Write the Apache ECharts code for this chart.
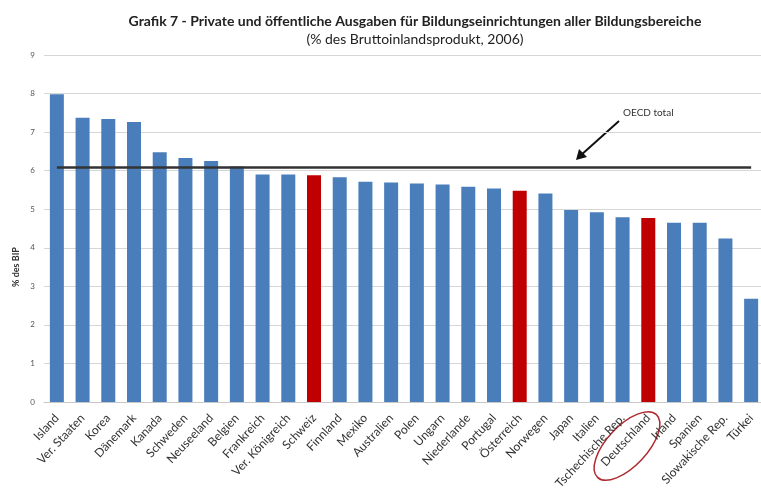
<!DOCTYPE html>
<html>
<head>
<meta charset="utf-8">
<script src="https://cdn.jsdelivr.net/npm/echarts@6/dist/echarts.min.js"></script>
<style>
  html, body { margin: 0; padding: 0; background: #fff; }
  #chart { width: 761px; height: 488px; }
</style>
</head>
<body>
<div id="chart"></div>
<script>
  // Länder, sortiert nach Ausgaben
  const countries = ['Island', 'Ver. Staaten', 'Korea', 'Dänemark', 'Kanada', 'Schweden', 'Neuseeland',
    'Belgien', 'Frankreich', 'Ver. Königreich', 'Schweiz', 'Finnland', 'Mexiko', 'Australien', 'Polen',
    'Ungarn', 'Niederlande', 'Portugal', 'Österreich', 'Norwegen', 'Japan', 'Italien', 'Tschechische Rep.',
    'Deutschland', 'Irland', 'Spanien', 'Slowakische Rep.', 'Türkei'];
  const spending = [7.98, 7.37, 7.34, 7.26, 6.48, 6.33, 6.25, 6.11, 5.9, 5.9, 5.88, 5.83, 5.71, 5.69, 5.67,
    5.64, 5.58, 5.54, 5.48, 5.41, 4.98, 4.92, 4.79, 4.77, 4.65, 4.65, 4.24, 2.68];
  const highlighted = ['Schweiz', 'Österreich', 'Deutschland'];
  const oecdTotal = 6.1;

  const chart = echarts.init(document.getElementById('chart'));
  const font = 'Lato, "Open Sans", sans-serif';

  chart.setOption({
    animation: false,
    textStyle: { fontFamily: font },
    title: {
      text: 'Grafik 7 - Private und öffentliche Ausgaben für Bildungseinrichtungen aller Bildungsbereiche',
      subtext: '(% des Bruttoinlandsprodukt, 2006)',
      left: 410,
      textAlign: 'center',
      top: 9,
      itemGap: 4,
      textStyle: { fontSize: 14, fontWeight: 'bold', color: '#222', fontFamily: font },
      subtextStyle: { fontSize: 14, color: '#222', fontFamily: font }
    },
    grid: { left: 44, right: -3, top: 55, bottom: 86, outerBoundsMode: 'none', containLabel: false },
    xAxis: {
      type: 'category',
      data: countries,
      axisLine: { lineStyle: { color: '#c8c8c8' } },
      axisTick: { show: false },
      axisLabel: { interval: 0, rotate: 47, fontSize: 12, color: '#333', margin: 14 }
    },
    yAxis: {
      type: 'value',
      min: 0,
      max: 9,
      interval: 1,
      axisLine: { show: false },
      axisTick: { show: false },
      axisLabel: { fontSize: 8, color: '#555', margin: 9 },
      splitLine: { lineStyle: { color: '#d6d6d6' } }
    },
    series: [{
      type: 'bar',
      data: spending.map((v, i) => ({
        value: v,
        itemStyle: { color: highlighted.includes(countries[i]) ? '#c00000' : '#4a7ebb' }
      })),
      barWidth: 14,
      markLine: {
        silent: true,
        symbol: 'none',
        label: { show: false },
        lineStyle: { color: '#333', width: 2.5, type: 'solid' },
        data: [[
          { coord: [countries[0], oecdTotal] },
          { coord: [countries[countries.length - 1], oecdTotal] }
        ]]
      }
    }],
    graphic: [
      {
        type: 'text', x: 16, y: 267, rotation: Math.PI / 2,
        style: { text: '% des BIP', font: 'bold 9px ' + font, fill: '#333', textAlign: 'center', textVerticalAlign: 'middle' }
      },
      {
        type: 'text', x: 623, y: 108,
        style: { text: 'OECD total', font: '10px ' + font, fill: '#333' }
      },
      {
        type: 'line',
        shape: { x1: 619, y1: 121, x2: 580, y2: 156 },
        style: { stroke: '#111', lineWidth: 2 }
      },
      {
        type: 'polygon',
        shape: { points: [[576, 160], [579, 149], [587, 157]] },
        style: { fill: '#111' }
      },
      {
        type: 'ellipse', x: 627, y: 446, rotation: Math.PI * 0.26,
        shape: { cx: 0, cy: 0, rx: 43, ry: 20 },
        style: { fill: 'none', stroke: '#b02a30', lineWidth: 1.5 }
      }
    ]
  });
</script>
</body>
</html>
